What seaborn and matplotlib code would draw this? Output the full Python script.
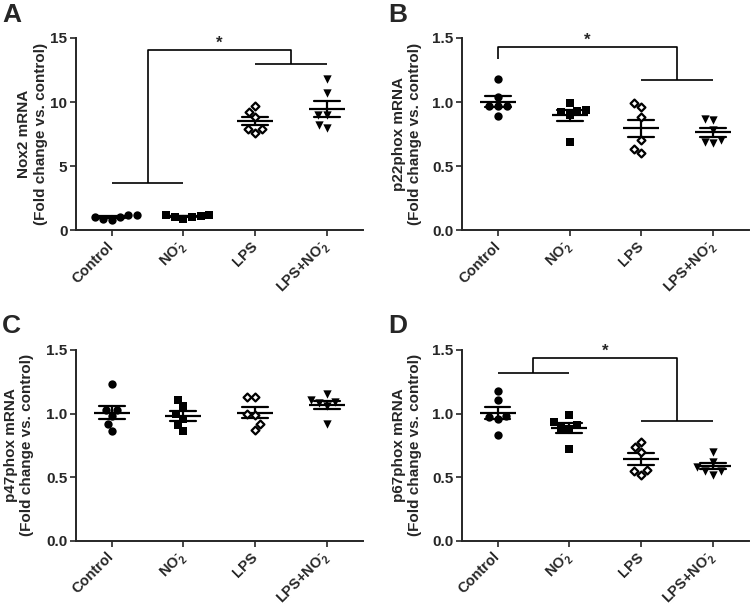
import numpy as np
import pandas as pd
import matplotlib
matplotlib.use('Agg')
import matplotlib.pyplot as plt
import seaborn as sns

# Groups shared by all four panels
groups = ['Control', 'NO2', 'LPS', 'LPS+NO2']
group_labels = ['Control', 'NO$_2^{\u2010}$', 'LPS', 'LPS+NO$_2^{\u2010}$']
group_markers = ['o', 's', 'D', 'v']

# Values (fold change vs. control), one list per group
nox2_values = [[1.15, 1.05, 0.80, 0.85, 1.00, 1.15],
               [1.15, 1.05, 0.90, 1.00, 1.10, 1.20],
               [9.20, 8.80, 9.70, 7.90, 7.60, 7.90],
               [11.8, 10.7, 9.00, 9.00, 8.00, 8.20]]
p22_values = [[1.18, 1.04, 0.97, 0.97, 0.97, 0.89],
              [0.94, 0.92, 0.93, 0.99, 0.69, 0.90],
              [0.99, 0.96, 0.88, 0.70, 0.60, 0.63],
              [0.87, 0.86, 0.78, 0.70, 0.68, 0.69]]
p47_values = [[1.23, 1.03, 1.03, 0.98, 0.92, 0.86],
              [1.11, 1.06, 1.00, 0.96, 0.91, 0.86],
              [1.13, 1.13, 1.00, 0.99, 0.87, 0.92],
              [1.11, 1.09, 1.08, 1.15, 0.92, 1.06]]
p67_values = [[1.18, 1.11, 0.97, 0.96, 0.98, 0.83],
              [0.99, 0.93, 0.91, 0.88, 0.89, 0.72],
              [0.78, 0.74, 0.70, 0.56, 0.52, 0.55],
              [0.70, 0.62, 0.55, 0.52, 0.55, 0.58]]

ylabels = ['Nox2 mRNA', 'p22phox mRNA', 'p47phox mRNA', 'p67phox mRNA']
sub_label = '(Fold change vs. control)'

# significance brackets: (left span, left level, right span, right level, top level)
brackets = [((0, 1), 3.65, (2, 3), 12.97, 14.05),
            ((0, 0), 1.336, (2, 3), 1.174, 1.427),
            None,
            ((0, 1), 1.317, (2, 3), 0.944, 1.44)]

sns.set_style('ticks')
plt.rcParams['font.family'] = ['Liberation Sans', 'DejaVu Sans']
plt.rcParams['font.weight'] = 'bold'
plt.rcParams['mathtext.fontset'] = 'custom'
plt.rcParams['mathtext.rm'] = 'Liberation Sans:bold'
plt.rcParams['mathtext.it'] = 'Liberation Sans:bold'
plt.rcParams['mathtext.bf'] = 'Liberation Sans:bold'

fig = plt.figure(figsize=(7.5, 6.07), dpi=100)

positions = [[0.101, 0.621, 0.3827, 0.3164],
             [0.616, 0.621, 0.3827, 0.3164],
             [0.101, 0.1092, 0.3827, 0.3142],
             [0.6156, 0.1092, 0.3827, 0.3142]]
letters = ['A', 'B', 'C', 'D']
letter_pos = [(0.003, 0.995), (0.517, 0.995), (0.003, 0.482), (0.517, 0.482)]
label_x = [-0.098, -0.14, -0.146, -0.139]
all_values = [nox2_values, p22_values, p47_values, p67_values]

for i, values in enumerate(all_values):
    ax = fig.add_axes(positions[i])
    df = pd.DataFrame({'group': np.repeat(groups, [len(v) for v in values]),
                       'value': np.concatenate(values)})

    for g, m in zip(groups, group_markers):
        sub = df[df['group'] == g]
        if m == 'D':
            sns.swarmplot(data=sub, x='group', y='value', order=groups, marker='D',
                          size=4.0, color='white', edgecolor='black', linewidth=1.6, ax=ax)
        else:
            sns.swarmplot(data=sub, x='group', y='value', order=groups, marker=m,
                          size=6.0, color='black', linewidth=0, ax=ax)

    # mean +/- SEM
    sns.pointplot(data=df, x='group', y='value', order=groups, errorbar='se',
                  capsize=0.36, color='black', linestyle='none', marker='_',
                  markersize=26, markeredgewidth=1.6, err_kws={'linewidth': 1.6}, ax=ax)

    if i == 0:
        ax.set_ylim(0, 15)
        ax.set_yticks([0, 5, 10, 15])
        ax.set_yticklabels(['0', '5', '10', '15'])
    else:
        ax.set_ylim(0, 1.5)
        ax.set_yticks([0, 0.5, 1.0, 1.5])
        ax.set_yticklabels(['0.0', '0.5', '1.0', '1.5'])
    ax.set_xlim(-0.5, 3.5)

    ax.set_xticks(range(4))
    ax.set_xticklabels(group_labels, rotation=45, ha='right', va='center',
                       rotation_mode='anchor', fontsize=10.5, fontweight='bold')
    for t in ax.get_yticklabels():
        t.set_fontsize(11)
        t.set_fontweight('bold')
    ax.tick_params(axis='both', length=4, width=1.2, pad=2)
    ax.tick_params(axis='x', pad=6)
    for s in ['left', 'bottom']:
        ax.spines[s].set_linewidth(1.4)
    sns.despine(ax=ax)

    ax.set_xlabel('')
    ax.set_ylabel(ylabels[i] + '\n' + sub_label, fontsize=11, fontweight='bold')
    ax.yaxis.set_label_coords(label_x[i], 0.5)

    br = brackets[i]
    if br is not None:
        (l0, l1), ll, (r0, r1), rl, top = br
        lm = (l0 + l1) / 2
        rm = (r0 + r1) / 2
        kw = dict(color='black', linewidth=1.2, clip_on=False, solid_capstyle='butt')
        ax.plot([l0, l1], [ll, ll], **kw)
        ax.plot([r0, r1], [rl, rl], **kw)
        ax.plot([lm, lm, rm, rm], [ll, top, top, rl], **kw)
        ax.annotate('*', xy=((lm + rm) / 2, top), xytext=(0, 1.5), textcoords='offset points',
                    ha='center', va='baseline', fontsize=12, fontweight='bold')

    fig.text(letter_pos[i][0], letter_pos[i][1], letters[i], ha='left', va='top',
             fontsize=19, fontweight='bold')

fig.savefig('out.png', dpi=100)
